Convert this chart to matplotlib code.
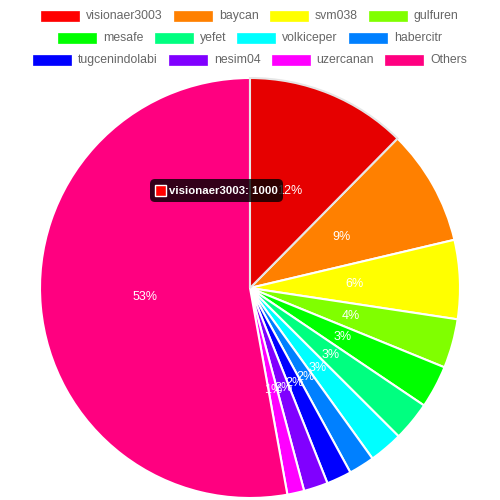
import matplotlib
matplotlib.use('Agg')
import matplotlib.pyplot as plt
from matplotlib.patches import Rectangle, FancyBboxPatch

names = ['visionaer3003', 'baycan', 'svm038', 'gulfuren', 'mesafe', 'yefet',
         'volkiceper', 'habercitr', 'tugcenindolabi', 'nesim04', 'uzercanan', 'Others']
values = [1000, 720, 490, 305, 265, 245, 210, 160, 155, 150, 105, 4265]
colors = ['#ff0000', '#ff8000', '#ffff00', '#80ff00', '#00ff00', '#00ff80',
          '#00ffff', '#0080ff', '#0000ff', '#8000ff', '#ff00ff', '#ff0080']
legend_rows = [names[0:4], names[4:8], names[8:12]]

W, H = 500, 500
fig = plt.figure(figsize=(5, 5), dpi=100)
ax = fig.add_axes([0, 0, 1, 1])
ax.set_xlim(0, W)
ax.set_ylim(0, H)
ax.set_aspect('equal')
ax.axis('off')

def py(y):
    # pixel y (top down) to data y
    return H - y

fnt = 'Liberation Sans'
px = 72 / 100  # points per pixel

wedges, texts, autotexts = ax.pie(
    values, colors=colors, center=(250, py(288)), radius=210,
    startangle=90, counterclock=False, frame=True,
    autopct=lambda p: '%d%%' % round(p), pctdistance=0.5,
    wedgeprops=dict(edgecolor='white', linewidth=1.5),
    textprops=dict(color='white', fontsize=12.5 * px, family=fnt))
ax.set_xlim(0, W)
ax.set_ylim(0, H)
ax.axis('off')

# hovered slice
wedges[0].set_facecolor('#e60000')
wedges[0].set_edgecolor('#e6e6e6')
wedges[0].set_zorder(3)

# legend, rows centered like chart.js
fig.canvas.draw()
renderer = fig.canvas.get_renderer()
box_w, box_h, gap_txt, gap_item = 38, 10, 7, 11
row_y = [16, 38, 60]
for row, yy in zip(legend_rows, row_y):
    widths = []
    for n in row:
        t = ax.text(0, 0, n, fontsize=12.2 * px, family=fnt)
        bb = t.get_window_extent(renderer)
        widths.append(bb.width)
        t.remove()
    total = sum(box_w + gap_txt + w for w in widths) + gap_item * (len(row) - 1)
    x = (W - total) / 2
    for n, w in zip(row, widths):
        c = colors[names.index(n)]
        ax.add_patch(Rectangle((x, py(yy) - box_h / 2), box_w, box_h,
                               facecolor=c, edgecolor=c, lw=0.5, zorder=5))
        ax.text(x + box_w + gap_txt, py(yy), n, fontsize=12.2 * px, family=fnt,
                color='#666666', va='center', ha='left')
        x += box_w + gap_txt + w + gap_item

# tooltip
tip = FancyBboxPatch((150, py(202)), 133, 23, boxstyle='round,pad=0,rounding_size=5',
                     facecolor=(0, 0, 0, 0.8), edgecolor='none', zorder=10)
ax.add_patch(tip)
ax.add_patch(Rectangle((155, py(196)), 11, 11, facecolor=colors[0],
                       edgecolor='white', lw=1, zorder=11))
ax.text(169, py(190.5), '%s: %d' % (names[0], values[0]), fontsize=11.4 * px,
        family=fnt, weight='bold', color='white', va='center', ha='left', zorder=12)

fig.savefig('out.png', dpi=100)
